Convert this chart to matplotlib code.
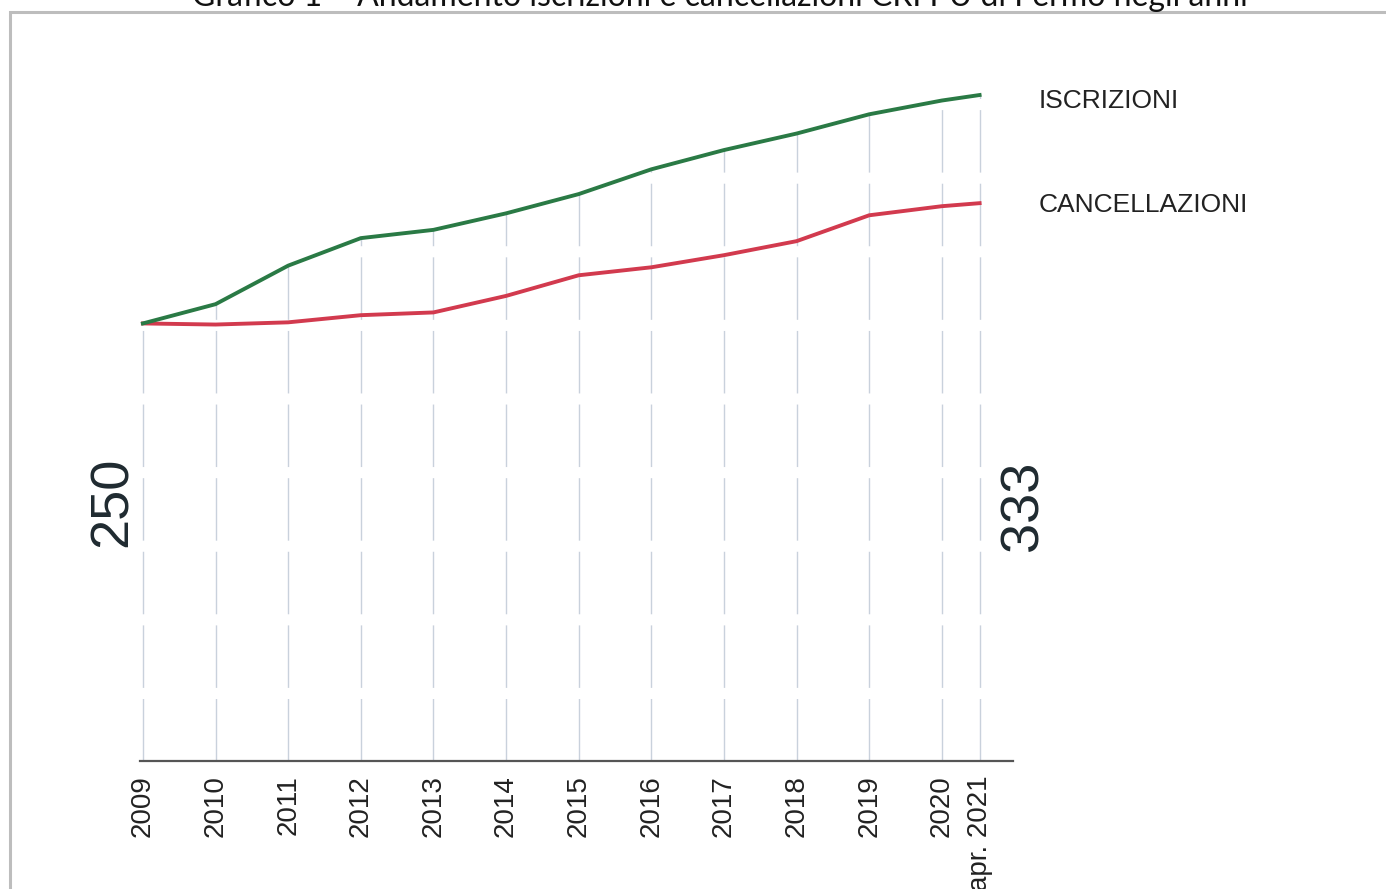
import matplotlib
matplotlib.use("Agg")
import matplotlib.pyplot as plt
from matplotlib.patches import Rectangle

# values (250 at start, 333 at the end)
years = [2009, 2010, 2011, 2012, 2013, 2014, 2015, 2016, 2017, 2018, 2019, 2020, 2020.52]
year_labels = ["2009", "2010", "2011", "2012", "2013", "2014", "2015", "2016",
               "2017", "2018", "2019", "2020", "apr. 2021"]
iscrizioni = [250, 257, 271, 281, 284, 290, 297, 306, 313, 319, 326, 331, 333]
cancellazioni = [250, 249.6, 250.4, 253, 254, 260, 267.5, 270.4, 274.8, 279.9, 289.3, 292.6, 293.7]

title = "Grafico 1 – Andamento iscrizioni e cancellazioni CRI PU di Fermo negli anni"

plt.rcParams['font.family'] = ['Liberation Sans', 'DejaVu Sans']

fig = plt.figure(figsize=(13.86, 8.89), dpi=100)
ax = fig.add_axes([140 / 1386, 128 / 889, 873 / 1386, 699 / 889])

ymin, ymax = 91, 345
# drop lines from the upper series down to the base
ax.vlines(years, ymin, iscrizioni, colors="#c9d1dc", linewidth=1.0,
          linestyles=(0, (45, 8)), zorder=1)

ax.plot(years, iscrizioni, color="#2a7a45", linewidth=2.8, zorder=3)
ax.plot(years, cancellazioni, color="#d23a4e", linewidth=2.8, zorder=2)

ax.set_xlim(2008.96, 2020.98)
ax.set_ylim(ymin, ymax)

for s in ["top", "right", "left"]:
    ax.spines[s].set_visible(False)
ax.spines["bottom"].set_color("#555555")
ax.spines["bottom"].set_linewidth(1.6)
ax.set_yticks([])
ax.set_xticks(years)
ax.set_xticklabels(year_labels, rotation=90, fontsize=20, color="#222222")
ax.tick_params(axis="x", length=0, pad=10)

# series names at right
ax.annotate("ISCRIZIONI", (2021.33, iscrizioni[-1]), xytext=(0, -4),
            textcoords="offset points", fontsize=19, color="#222222",
            va="center", ha="left", annotation_clip=False)
ax.annotate("CANCELLAZIONI", (2021.33, cancellazioni[-1]), xytext=(0, -1),
            textcoords="offset points", fontsize=19, color="#222222",
            va="center", ha="left", annotation_clip=False)

# start / end values written vertically
fig.text(113 / 1386, 1 - 502 / 889, str(iscrizioni[0]), rotation=90, fontsize=39,
         color="#1f2a30", ha="center", va="center")
fig.text(1023 / 1386, 1 - 506 / 889, str(iscrizioni[-1]), rotation=90, fontsize=39,
         color="#1f2a30", ha="center", va="center")

# frame of the page and clipped heading
fig.patches.append(Rectangle((10 / 1386, -0.05), 1.2, 1.05 - 12 / 889,
                             transform=fig.transFigure, fill=False,
                             edgecolor="#bdbdbd", linewidth=2.2))
fig.text(720 / 1386, 1 - 6 / 889, title, fontsize=23, family=["Lato", "DejaVu Sans"],
         color="#111111", ha="center", va="baseline")

fig.savefig("out.png", dpi=100, facecolor="white")
